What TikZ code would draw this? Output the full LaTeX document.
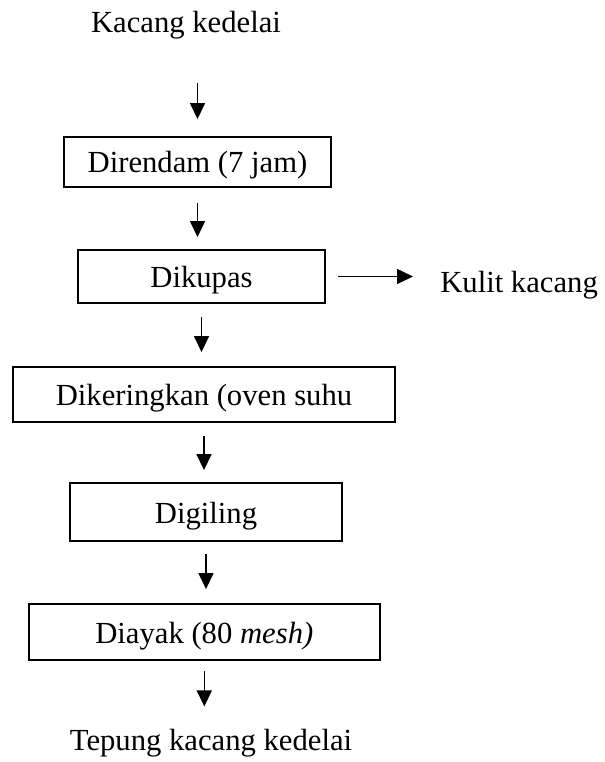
\documentclass[tikz,border=0pt]{standalone}
\usepackage{fontspec}
\setmainfont{Liberation Serif}
\usetikzlibrary{arrows.meta}
\tikzset{
  proses/.style={draw, line width=1.4pt, inner sep=0pt, text height=16.5pt, text depth=0pt},
  teks/.style={inner sep=0pt},
  flow/.style={->, line width=1.1pt},
  gap/.style 2 args={shorten <=#1, shorten >=#2}
}

\begin{document}
\begin{tikzpicture}[x=0.75pt, y=0.75pt, font=\fontsize{23}{28}\selectfont, >={Triangle[width=11.25pt,length=12pt]}]
\useasboundingbox (0,0) rectangle (605,-762);
\node[teks, anchor=base] (kedelai) at (186,-33) {Kacang kedelai};
\node[proses, minimum width=200.25pt, minimum height=37.5pt] (rendam) at (197.5,-162) {Direndam (7 jam)};
\node[proses, minimum width=185.25pt, minimum height=39.75pt] (kupas) at (201.5,-276.5) {Dikupas};
\node[teks, anchor=base west] (kulit) at (440,-292) {Kulit kacang};
\node[proses, minimum width=286.5pt, minimum height=41.25pt] (kering) at (204,-394.5) {Dikeringkan (oven suhu};
\node[proses, minimum width=204pt, minimum height=43.5pt] (giling) at (206,-512) {Digiling};
\node[proses, minimum width=263.25pt, minimum height=42pt] (ayak) at (204.3,-632) {Diayak (80 \textit{mesh)}};
\node[teks, anchor=base] (tepung) at (211,-750) {Tepung kacang kedelai};
\draw[flow, gap={32.25pt}{12.75pt}] (kedelai.south -| rendam.north) -- (rendam.north);
\draw[flow, gap={11.25pt}{9pt}] (rendam.south) -- (rendam.south |- kupas.north);
\draw[flow, gap={9.75pt}{10.5pt}] (kupas.south) -- (kupas.south |- kering.north);
\draw[flow, gap={9.75pt}{9pt}] (kering.south) -- (kering.south |- giling.north);
\draw[flow, gap={9pt}{10.5pt}] (giling.south) -- (giling.south |- ayak.north);
\draw[flow, gap={7.5pt}{16.5pt}] (ayak.south) -- (ayak.south |- tepung.north);
\draw[flow, gap={9pt}{20.25pt}] (kupas.east) -- (kupas.east -| kulit.west);
\end{tikzpicture}
\end{document}
